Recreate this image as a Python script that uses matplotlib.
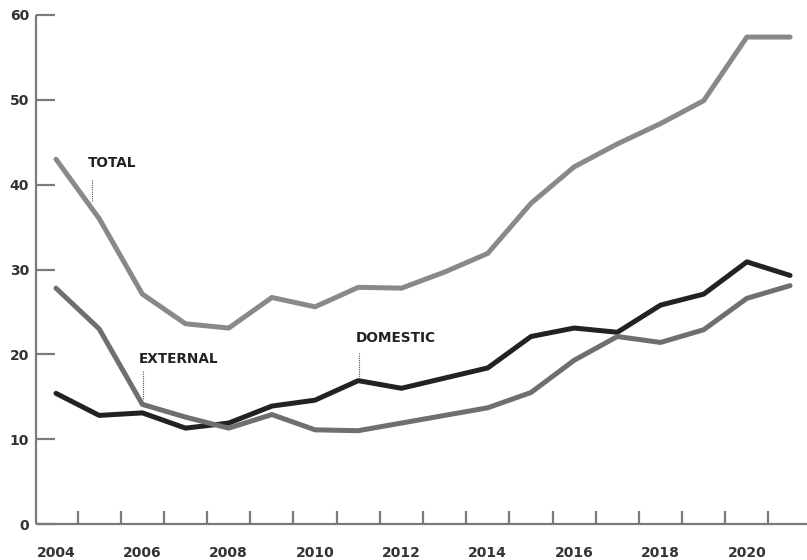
import matplotlib
matplotlib.use("Agg")
import matplotlib.pyplot as plt
import numpy as np

years = list(range(2004, 2022))
total = [43.0, 36.0, 27.1, 23.6, 23.1, 26.7, 25.6, 27.9, 27.8, 29.7, 31.9, 37.8, 42.1, 44.8, 47.2, 49.9, 57.4, 57.4]
external = [27.8, 23.0, 14.1, 12.6, 11.3, 12.9, 11.1, 11.0, 11.9, 12.8, 13.7, 15.5, 19.3, 22.1, 21.4, 22.9, 26.6, 28.1]
domestic = [15.4, 12.8, 13.1, 11.3, 11.9, 13.9, 14.6, 16.9, 16.0, 17.2, 18.4, 22.1, 23.1, 22.6, 25.8, 27.1, 30.9, 29.3]

y_ticks = [0, 10, 20, 30, 40, 50, 60]
x_labels = list(range(2004, 2021, 2))

# label annotations: (text, text_x, text_y, leader_x, leader_top, leader_bottom)
labels = [
    ("TOTAL", 2004.74, 42.5, 2004.83, 40.5, 38.0),
    ("EXTERNAL", 2005.92, 19.5, 2006.02, 18.0, 14.6),
    ("DOMESTIC", 2010.95, 21.9, 2011.02, 20.2, 17.2),
]

W, H = 807, 560
fig = plt.figure(figsize=(W / 100, H / 100), dpi=100)
ax = fig.add_axes([36 / W, (H - 524) / H, 1 - 36 / W, (524 - 15) / H])

c_total = "#898989"
c_ext = "#6f6f6f"
c_dom = "#222222"
axis_c = "#7a7a7a"

ax.plot(years, domestic, color=c_dom, lw=3.6, solid_capstyle="round", solid_joinstyle="round", zorder=3)
ax.plot(years, external, color=c_ext, lw=3.6, solid_capstyle="round", solid_joinstyle="round", zorder=4)
ax.plot(years, total, color=c_total, lw=3.6, solid_capstyle="round", solid_joinstyle="round", zorder=4)

x0 = 2004 + (36 - 56) / 43.18
x1 = 2004 + (807 - 56) / 43.18
ax.set_xlim(x0, x1)
ax.set_ylim(0, 60)

for s in ["top", "right"]:
    ax.spines[s].set_visible(False)
for s in ["left", "bottom"]:
    ax.spines[s].set_color(axis_c)
    ax.spines[s].set_linewidth(1.6)
    ax.spines[s].set_capstyle("butt")

font = dict(family="DejaVu Sans", weight="bold", size=10, color="#333333")

ax.set_yticks(y_ticks)
ax.set_yticklabels([str(v) for v in y_ticks], fontdict=font)
ax.tick_params(axis="y", direction="in", length=13.5, width=1.6, color=axis_c, pad=5)

ax.set_xticks(x_labels)
ax.set_xticklabels([str(v) for v in x_labels], fontdict=font)
ax.tick_params(axis="x", which="major", length=0, pad=16)
ax.set_xticks([y + 0.5 for y in range(2004, 2021)], minor=True)
ax.tick_params(axis="x", which="minor", direction="in", length=9.5, width=1.6, color=axis_c)

for text, tx, ty, lx, lt, lb in labels:
    ax.text(tx, ty, text, fontdict=dict(family="DejaVu Sans", weight="bold", size=9.8, color="#222222"),
            ha="left", va="center", zorder=6)
    ax.plot([lx, lx], [lt, lb], color="#555555", lw=0.8, ls=(0, (1, 1)), zorder=5)

fig.savefig("out.png", dpi=100)
